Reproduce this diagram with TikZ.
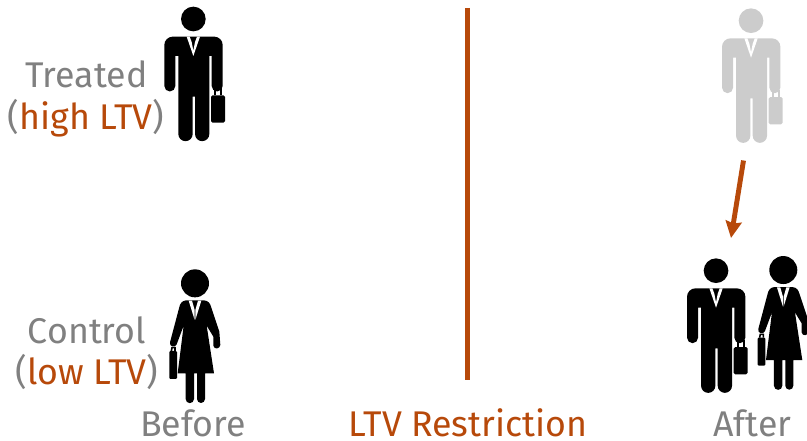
\documentclass[tikz,border=0pt]{standalone}
\usepackage{fontspec}
\usetikzlibrary{arrows.meta}
\setmainfont{Fira Sans}
\definecolor{rust}{HTML}{B7490A}
\definecolor{lab}{HTML}{808080}
\definecolor{ghost}{HTML}{CCCCCC}
\tikzset{
  lbl/.style={inner sep=0pt,text=lab,font=\fontsize{26.8pt}{32pt}\selectfont,anchor=base},
  pics/man/.style={code={
    \begin{scope}[x=0.25pt,y=-0.25pt]
    \fill[#1] (130,57) circle (37);
    \fill[#1] (43,135) arc[start angle=180,end angle=270,radius=25] -- (193,110)
      arc[start angle=270,end angle=360,radius=25] -- (218,258)
      arc[start angle=0,end angle=180,radius=16.5] -- (185,168) -- (178,168) -- (178,402)
      arc[start angle=0,end angle=180,radius=21.5] -- (135,290) -- (128,290) -- (128,402)
      arc[start angle=0,end angle=180,radius=21.5] -- (85,168) -- (76,168) -- (76,258)
      arc[start angle=0,end angle=180,radius=16.5] -- cycle;
    \fill[white] (110,110) -- (130,168) -- (150,110) -- (141,110) -- (135,126) -- (130,152) -- (125,126) -- (119,110) -- cycle;
    \fill[#1,rounded corners=1.2pt] (183,286) rectangle (225,368);
    \draw[#1,line width=1.6pt] (195,286) -- (195,268) -- (213,268) -- (213,286);
    \end{scope}
  }},
  pics/woman/.style={code={
    \begin{scope}[x=0.25pt,y=-0.25pt]
    \fill[black] (105,55) circle (42);
    \fill[black,line join=round] (78,106) -- (132,106)
      .. controls (146,108) and (150,114) .. (154,128)
      -- (178,200) -- (181,240) .. controls (180,252) and (162,255) .. (160,242)
      -- (160,215) -- (140,182) -- (162,325) -- (135,325) -- (135,402)
      arc[start angle=0,end angle=180,radius=12] -- (111,325) -- (102,325) -- (102,402)
      arc[start angle=0,end angle=180,radius=12.5] -- (77,325) -- (53,325) -- (71,182)
      -- (50,238) .. controls (45,250) and (27,245) .. (30,232)
      -- (57,130) .. controls (60,115) and (65,108) .. (78,106) -- cycle;
    \fill[white] (86,107) -- (104,165) -- (104,135) -- (96,107) -- cycle;
    \fill[white] (124,107) -- (106,165) -- (106,135) -- (114,107) -- cycle;
    \fill[black,rounded corners=0.8pt] (28,258) rectangle (51,342);
    \draw[black,line width=1.2pt] (34,258) -- (36,248) -- (45,248) -- (45,258);
    \end{scope}
  }}
}
\begin{document}
\begin{tikzpicture}[x=0.75pt,y=-0.75pt]
\useasboundingbox (0,0) rectangle (807,441);
\pic at (150,0) {man=black};
\pic at (707.7,1.7) {man=ghost};
\pic at (672.7,251.7) {man=black};
\pic at (160,265) {woman};
\pic at (748.3,251.7) {woman};
\node[lbl] (treated) at (86.5,88) {Treated};
\node[lbl] (high) at (86,130) {(\textcolor{rust}{high LTV})};
\node[lbl] (control) at (87,344) {Control};
\node[lbl] (low) at (87,385) {(\textcolor{rust}{low LTV})};
\node[lbl] (before) at (193,437) {Before};
\node[lbl,text=rust] (restr) at (468,437) {LTV Restriction};
\node[lbl] (after) at (752.5,437) {After};
\coordinate (lineTop) at (467.5,8);
\coordinate (lineBot) at (467.5,380);
\draw[rust,line width=3.9pt] (lineTop) -- (lineBot);
\coordinate (arrTop) at (743.5,160.5);
\coordinate (arrTip) at (731,238);
\draw[rust,line width=3.7pt,-{Stealth[length=12.5pt,width=12pt,inset=1.5pt]}] (arrTop) -- (arrTip);
\end{tikzpicture}
\end{document}
